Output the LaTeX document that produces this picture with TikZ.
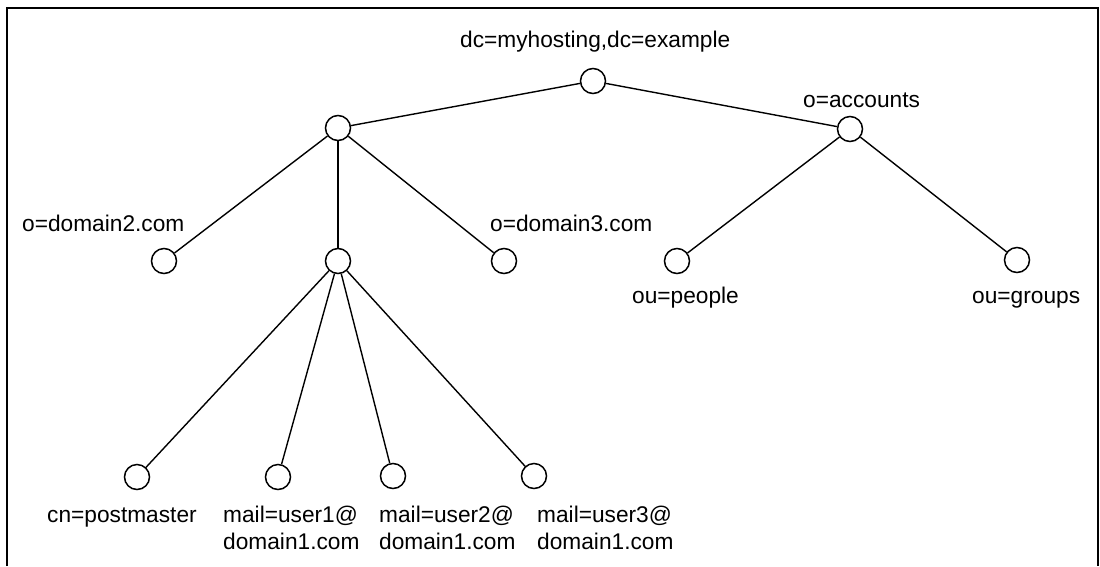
\documentclass[tikz,border=0pt]{standalone}
\usepackage{fontspec}
\setmainfont{Liberation Sans}
\begin{document}
\begin{tikzpicture}[x=1pt,y=-1pt,
  entry/.style={circle,draw,line width=1.5pt,minimum size=25pt,inner sep=0pt},
  lbl/.style={anchor=base west,inner sep=0pt,font=\fontsize{22.7}{27}\selectfont},
  link/.style={line width=1.4pt}]
\useasboundingbox (0,0) rectangle (1100,566);
% open frame
\draw[line width=1.5pt] (7,566) -- (7,8) -- (1098,8) -- (1098,566);

% directory entries
\node[entry] (root) at (593,81) {};
\node[entry] (dom1) at (338,128) {};
\node[entry] (acc)  at (850,129) {};
\node[entry] (dom2) at (164,261) {};
\node[entry] (mid)  at (338,261) {};
\node[entry] (dom3) at (504,261) {};
\node[entry] (ppl)  at (677,261) {};
\node[entry] (grp)  at (1017,260) {};
\node[entry] (pm)   at (137,477) {};
\node[entry] (u1)   at (278,477) {};
\node[entry] (u2)   at (393,476) {};
\node[entry] (u3)   at (534,476) {};

% tree links
\draw[link] (root) -- (dom1);
\draw[link] (root) -- (acc);
\draw[link] (dom1) -- (dom2);
\draw[link] (dom1) -- (mid);
\draw[link] (dom1) -- (dom3);
\draw[link] (acc) -- (ppl);
\draw[link] (acc) -- (grp);
\draw[link] (mid) -- (pm);
\draw[link] (mid) -- (u1);
\draw[link] (mid) -- (u2);
\draw[link] (mid) -- (u3);

% labels
\node[lbl] (troot) at (460,47)  {dc=myhosting,dc=example};
\node[lbl] (tacc)  at (803,107) {o=accounts};
\node[lbl] (tdom2) at (22,231)  {o=domain2.com};
\node[lbl] (tdom3) at (490,231) {o=domain3.com};
\node[lbl] (tppl)  at (632,303) {ou=people};
\node[lbl] (tgrp)  at (972,303) {ou=groups};
\node[lbl] (tpm)   at (47,522)  {cn=postmaster};
\node[lbl] (tu1)   at (223,522) {\begin{tabular}[t]{@{}l@{}}mail=user1@\\domain1.com\end{tabular}};
\node[lbl] (tu2)   at (379,522) {\begin{tabular}[t]{@{}l@{}}mail=user2@\\domain1.com\end{tabular}};
\node[lbl] (tu3)   at (537,522) {\begin{tabular}[t]{@{}l@{}}mail=user3@\\domain1.com\end{tabular}};
\end{tikzpicture}
\end{document}
